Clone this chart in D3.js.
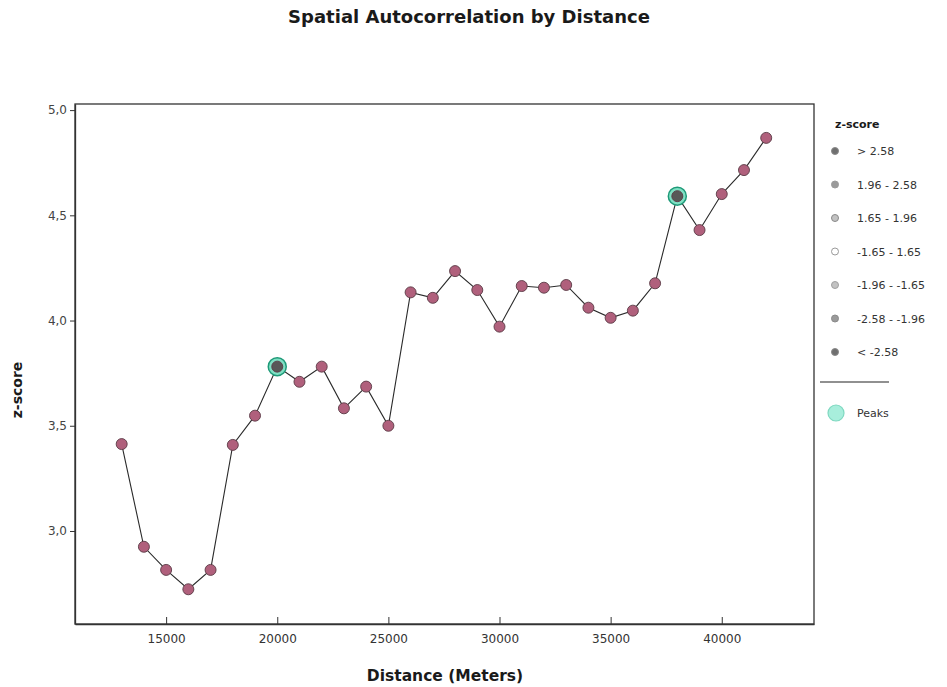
<!DOCTYPE html>
<html>
<head>
<meta charset="utf-8">
<script src="https://cdn.jsdelivr.net/npm/d3@7/dist/d3.min.js"></script>
<style>
  body { margin: 0; background: #fff; }
  svg { display: block; }
  text { font-family: "DejaVu Sans", sans-serif; }
</style>
</head>
<body>
<svg id="chart" width="947" height="687"></svg>
<script>
// Data
const distances = [13000,14000,15000,16000,17000,18000,19000,20000,21000,22000,23000,24000,25000,26000,27000,28000,29000,30000,31000,32000,33000,34000,35000,36000,37000,38000,39000,40000,41000,42000];
const zScores = [3.413,2.925,2.815,2.723,2.815,3.409,3.548,3.781,3.709,3.781,3.583,3.686,3.500,4.134,4.108,4.235,4.145,3.971,4.164,4.156,4.169,4.061,4.013,4.047,4.177,4.591,4.430,4.601,4.715,4.868];
const peakDistances = [20000, 38000];
const xTicks = [15000,20000,25000,30000,35000,40000];
const yTicks = [3.0,3.5,4.0,4.5,5.0];
const legendLabels = ["> 2.58","1.96 - 2.58","1.65 - 1.96","-1.65 - 1.65","-1.96 - -1.65","-2.58 - -1.96","< -2.58"];
const legendFills = ["#6f6f6f","#9a9a9a","#c2c2c2","#ffffff","#c2c2c2","#9a9a9a","#6f6f6f"];
const legendStrokes = ["#8a8a8a","#9a9a9a","#8a8a8a","#9a9a9a","#a0a0a0","#8a8a8a","#8a8a8a"];

const svg = d3.select("#chart");
const margin = {left: 75, right: 133, top: 104, bottom: 63};
const W = 947, H = 687;
const x = d3.scaleLinear().domain([10900, 44150]).range([margin.left, W - margin.right]);
const y = d3.scaleLinear().domain([2.558, 5.029]).range([H - margin.bottom, margin.top]);

const data = distances.map((d, i) => ({d, z: zScores[i], peak: peakDistances.includes(d)}));

// Title
svg.append("text").attr("x", 469).attr("y", 23).attr("text-anchor", "middle")
  .style("font-size", "18px").style("font-weight", "bold").attr("fill", "#1a1a1a")
  .text("Spatial Autocorrelation by Distance");

// Frame
svg.append("rect").attr("x", margin.left).attr("y", margin.top)
  .attr("width", W - margin.right - margin.left).attr("height", H - margin.bottom - margin.top)
  .attr("fill", "none").attr("stroke", "#333").attr("stroke-width", 1.3);

// X axis (ticks inside)
const xAxis = svg.append("g").attr("transform", `translate(0,${H - margin.bottom})`)
  .call(d3.axisBottom(x).tickValues(xTicks).tickFormat(d3.format("d")).tickSizeInner(-7).tickSizeOuter(0).tickPadding(10));
xAxis.select(".domain").attr("stroke", "#333").attr("stroke-width", 1.5);
xAxis.selectAll(".tick line").attr("stroke", "#333");
xAxis.selectAll(".tick text").style("font-size", "12px").attr("fill", "#333");

// Y axis (ticks outside)
const yAxis = svg.append("g").attr("transform", `translate(${margin.left},0)`)
  .call(d3.axisLeft(y).tickValues(yTicks).tickFormat(d => d3.format(".1f")(d).replace(".", ",")).tickSizeInner(5).tickSizeOuter(0).tickPadding(3));
yAxis.select(".domain").attr("stroke", "#333").attr("stroke-width", 1.3);
yAxis.selectAll(".tick line").attr("stroke", "#333");
yAxis.selectAll(".tick text").style("font-size", "12px").attr("fill", "#444");

// Axis titles
svg.append("text").attr("x", 445).attr("y", 681).attr("text-anchor", "middle")
  .style("font-size", "15.5px").style("font-weight", "bold").attr("fill", "#1a1a1a")
  .text("Distance (Meters)");
svg.append("text").attr("transform", `translate(22,390) rotate(-90)`)
  .attr("text-anchor", "middle").style("font-size", "14px").style("font-weight", "bold").attr("fill", "#1a1a1a")
  .text("z-score");

// Line
svg.append("path").datum(data)
  .attr("d", d3.line().x(d => x(d.d)).y(d => y(d.z)))
  .attr("fill", "none").attr("stroke", "#2a2a2a").attr("stroke-width", 1.1);

// Peak rings
svg.selectAll("circle.peak").data(data.filter(d => d.peak)).join("circle")
  .attr("class", "peak").attr("cx", d => x(d.d)).attr("cy", d => y(d.z)).attr("r", 9)
  .attr("fill", "#7fe0c4").attr("stroke", "#1e9a78").attr("stroke-width", 1.5);

// Points
svg.selectAll("circle.pt").data(data).join("circle")
  .attr("class", "pt").attr("cx", d => x(d.d)).attr("cy", d => y(d.z)).attr("r", 5.5)
  .attr("fill", d => d.peak ? "#585858" : "#b0607c").attr("stroke", "#5a3a45").attr("stroke-width", 0.9);

// Legend
const lg = svg.append("g");
lg.append("text").attr("x", 835).attr("y", 128).style("font-size", "11px").style("font-weight", "bold")
  .attr("fill", "#1a1a1a").text("z-score");
legendLabels.forEach((lab, i) => {
  const cy = 151 + i * 33.5;
  lg.append("circle").attr("cx", 835).attr("cy", cy).attr("r", 3.5)
    .attr("fill", legendFills[i]).attr("stroke", legendStrokes[i]).attr("stroke-width", 1);
  lg.append("text").attr("x", 857).attr("y", cy + 4).style("font-size", "11px").attr("fill", "#333").text(lab);
});
lg.append("line").attr("x1", 820).attr("x2", 889).attr("y1", 382).attr("y2", 382)
  .attr("stroke", "#222").attr("stroke-width", 1.2);
lg.append("circle").attr("cx", 836).attr("cy", 413).attr("r", 8)
  .attr("fill", "#a8eedc").attr("stroke", "#7fd8c0").attr("stroke-width", 1.2);
lg.append("text").attr("x", 857).attr("y", 417).style("font-size", "11px").attr("fill", "#333").text("Peaks");
</script>
</body>
</html>
